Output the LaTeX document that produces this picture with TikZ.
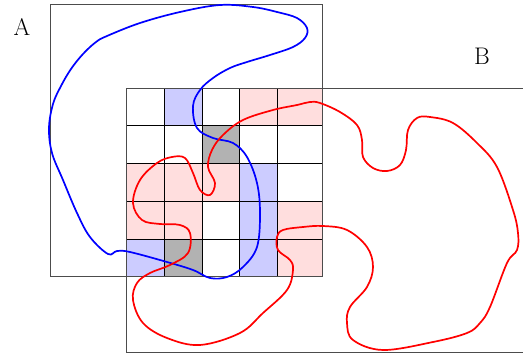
\documentclass[tikz,border=0pt]{standalone}
\begin{document}
\begin{tikzpicture}[x=1pt,y=-1pt,
  frame/.style={draw=black!70,line width=0.9pt},
  gridline/.style={draw=black,line width=0.8pt},
  bluecell/.style={fill=blue!20},
  pinkcell/.style={fill=red!13},
  graycell/.style={fill=black!30},
  bluecurve/.style={draw=blue,line width=1.7pt},
  redcurve/.style={draw=red,line width=1.7pt},
  lab/.style={font=\fontsize{24}{24}\selectfont,inner sep=0pt}]
\useasboundingbox (0,0) rectangle (523,356);
% column and row edges
\def\xa{126.5}\def\xb{164.3}\def\xc{202}\def\xd{239.8}\def\xe{277.5}\def\xf{322.7}
\def\ya{88}\def\yb{125.7}\def\yc{163.5}\def\yd{201.3}\def\ye{239}\def\yf{276.7}
% cells
\fill[bluecell] (\xb,\ya) rectangle (\xc,\yb);
\fill[pinkcell] (\xd,\ya) rectangle (\xe,\yb);
\fill[pinkcell] (\xe,\ya) rectangle (\xf,\yb);
\fill[graycell] (\xc,\yb) rectangle (\xd,\yc);
\fill[pinkcell] (\xa,\yc) rectangle (\xb,\yd);
\fill[pinkcell] (\xb,\yc) rectangle (\xc,\yd);
\fill[pinkcell] (\xc,\yc) rectangle (\xd,\yd);
\fill[bluecell] (\xd,\yc) rectangle (\xe,\yd);
\fill[pinkcell] (\xa,\yd) rectangle (\xb,\ye);
\fill[pinkcell] (\xb,\yd) rectangle (\xc,\ye);
\fill[bluecell] (\xd,\yd) rectangle (\xe,\ye);
\fill[pinkcell] (\xe,\yd) rectangle (\xf,\ye);
\fill[bluecell] (\xa,\ye) rectangle (\xb,\yf);
\fill[graycell] (\xb,\ye) rectangle (\xc,\yf);
\fill[bluecell] (\xd,\ye) rectangle (\xe,\yf);
\fill[pinkcell] (\xe,\ye) rectangle (\xf,\yf);
% grid
\foreach \x in {\xb,\xc,\xd,\xe} \draw[gridline] (\x,\ya) -- (\x,\yf);
\foreach \y in {\yb,\yc,\yd,\ye} \draw[gridline] (\xa,\y) -- (\xf,\y);
% squares A and B
\draw[frame] (50.7,4.7) rectangle (\xf,\yf);
\draw[frame] (540,\ya) -- (\xa,\ya) -- (\xa,352.7) -- (540,352.7);
\node[lab] (la) at (22,27) {A};
\node[lab] (lb) at (482,56) {B};
% blue curve
\draw[bluecurve] plot[smooth cycle,tension=0.6] coordinates {
(107,36) (140,23) (180,12) (220,5) (253,7) (277,12) (297,18) (307,28)
(305,38) (293,47) (270,55) (247,62) (230,68) (213,78) (200,90)
(193,106) (197,128) (213,138) (233,143) (247,157) (257,183)
(260,213) (257,247) (243,267) (227,277) (210,278) (193,270) (167,262)
(130,252) (117,251) (108,254) (90,237) (77,213) (63,180) (52,153)
(49,128) (53,104) (61,86) (71,69) (83,54) (96,42)};
% red curve
\draw[redcurve] plot[smooth cycle,tension=0.6] coordinates {
(320,103) (340,112) (357,125) (362,140) (363,157) (373,168) (387,171)
(400,165) (406,150) (408,130) (417,118) (430,117) (453,123) (477,143)
(497,167) (513,210) (518,233) (517,250) (507,263) (490,307) (480,323)
(467,333) (433,342) (383,350) (353,340) (347,323) (350,307) (367,287)
(373,267) (367,247) (347,230) (323,226) (303,227) (283,230) (277,237)
(278,250) (290,260) (293,270) (287,290) (263,313) (240,333) (200,345)
(167,338) (143,323) (133,300) (137,283) (150,273) (170,265) (188,253)
(190,233) (180,225) (160,224) (142,220) (133,203) (140,180) (157,163)
(172,157) (185,158) (193,173) (200,190) (210,195) (215,183) (208,167)
(212,150) (223,135) (243,120) (273,110) (297,105) (310,102)};
\end{tikzpicture}
\end{document}
